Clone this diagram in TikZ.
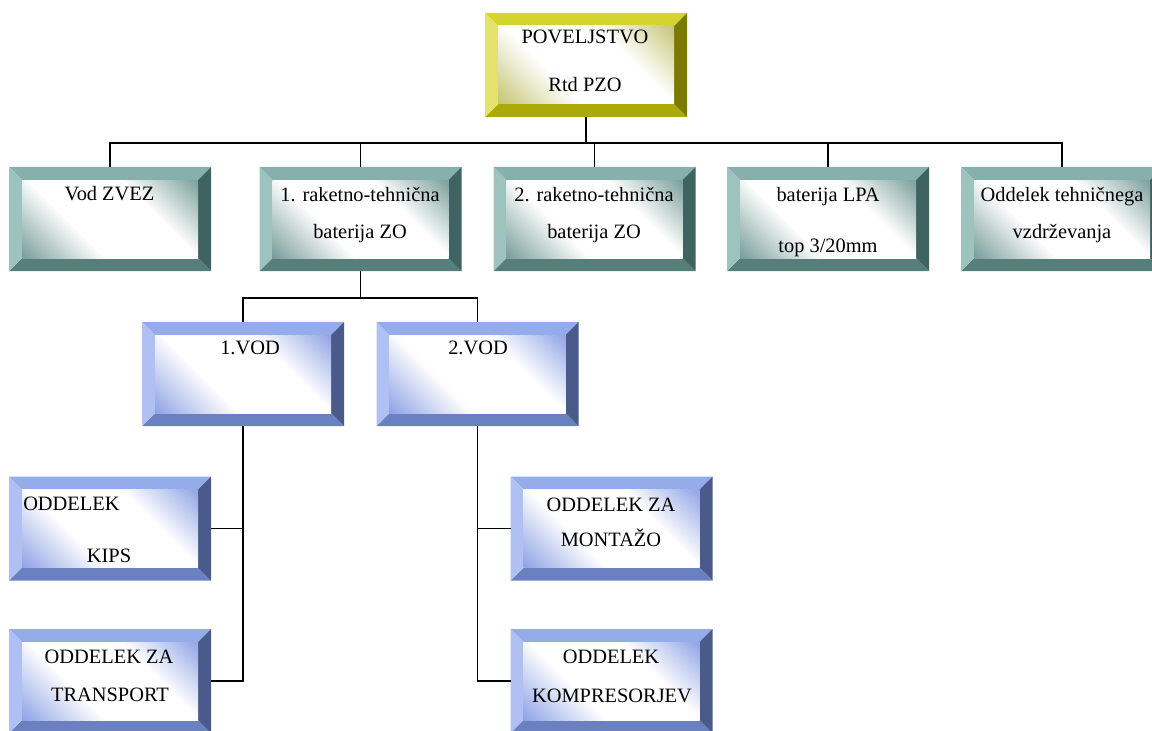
\documentclass[tikz,border=0pt]{standalone}
\usepackage{fontspec}
\setmainfont{Liberation Serif}
\usetikzlibrary{calc}

\definecolor{goldtop}{HTML}{D4D42C}
\definecolor{goldleft}{HTML}{E2E26C}
\definecolor{goldright}{HTML}{7A7A00}
\definecolor{goldbot}{HTML}{AAAA08}
\definecolor{goldin}{HTML}{B9B95A}
\definecolor{seatop}{HTML}{86B0AC}
\definecolor{sealeft}{HTML}{9EC2BE}
\definecolor{searight}{HTML}{3E6360}
\definecolor{seabot}{HTML}{567E7A}
\definecolor{seain}{HTML}{5E8A86}
\definecolor{skytop}{HTML}{94ACEA}
\definecolor{skyleft}{HTML}{B0C0F2}
\definecolor{skyright}{HTML}{4A5A8A}
\definecolor{skybot}{HTML}{6A80C0}
\definecolor{skyin}{HTML}{7890E0}
\colorlet{bvin}{white}
\newcommand{\bvw}{9.75pt}
\pgfdeclareverticalshading[bvin]{bevelin}{100bp}{color(0bp)=(bvin); color(10bp)=(bvin);
  color(38bp)=(white); color(64bp)=(white); color(90bp)=(bvin); color(100bp)=(bvin)}

\begin{document}
\begin{tikzpicture}
[x=0.75pt,y=-0.75pt,
bevel/.style={rectangle, draw=none, inner sep=0pt, outer sep=0pt,
   minimum width=151.5pt, minimum height=78pt,
   path picture={
     \coordinate (nw) at (path picture bounding box.north west);
     \coordinate (ne) at (path picture bounding box.north east);
     \coordinate (sw) at (path picture bounding box.south west);
     \coordinate (se) at (path picture bounding box.south east);
     \fill[#1top] (nw) -- (ne) -- ([shift={(-\bvw,-\bvw)}]ne) -- ([shift={(\bvw,-\bvw)}]nw) -- cycle;
     \fill[#1bot] (sw) -- (se) -- ([shift={(-\bvw,\bvw)}]se) -- ([shift={(\bvw,\bvw)}]sw) -- cycle;
     \fill[#1left] (nw) -- (sw) -- ([shift={(\bvw,\bvw)}]sw) -- ([shift={(\bvw,-\bvw)}]nw) -- cycle;
     \fill[#1right] (ne) -- (se) -- ([shift={(-\bvw,\bvw)}]se) -- ([shift={(-\bvw,-\bvw)}]ne) -- cycle;
     \colorlet{bvin}{#1in}
     \shade[shading=bevelin, shading angle=-45]
       ([shift={(\bvw,-\bvw)}]nw) rectangle ([shift={(-\bvw,\bvw)}]se);
   }},
lbl/.style={anchor=base, inner sep=0pt, font=\rmfamily\fontsize{15.3}{18}\selectfont},
link/.style={line width=1.4pt, black}]
\useasboundingbox (0,0) rectangle (1152,731);

% first row
\node[bevel=gold] (pov) at (586,65) {};
\node[lbl] (povt1) at (585,44) {POVELJSTVO};
\node[lbl] (povt2) at (585,92) {Rtd PZO};

% second row
\node[bevel=sea] (zvez) at (110,219) {};
\node[bevel=sea] (rt1) at (360.5,219) {};
\node[bevel=sea] (rt2) at (594.5,219) {};
\node[bevel=sea] (lpa) at (828,219) {};
\node[bevel=sea] (otv) at (1062,219) {};

\node[lbl] (zvezt) at (109.5,200) {Vod ZVEZ};
\node[lbl] (rt1a) at (360,201) {1. raketno-tehnična};
\node[lbl] (rt1b) at (360,238) {baterija ZO};
\node[lbl] (rt2a) at (594,201) {2. raketno-tehnična};
\node[lbl] (rt2b) at (594,238) {baterija ZO};
\node[lbl] (lpaa) at (828,201) {baterija LPA};
\node[lbl] (lpab) at (828,252) {top 3/20mm};
\node[lbl] (otva) at (1062,201) {Oddelek tehničnega};
\node[lbl] (otvb) at (1062,238) {vzdrževanja};

% third row
\node[bevel=sky] (vod1) at (243,374) {};
\node[bevel=sky] (vod2) at (477.5,374) {};
\node[lbl] (vod1t) at (250,354) {1.VOD};
\node[lbl] (vod2t) at (478,354) {2.VOD};

% fourth and fifth row
\node[bevel=sky] (kips) at (110,528.5) {};
\node[bevel=sky] (trans) at (110,681) {};
\node[bevel=sky] (mont) at (611.5,528.5) {};
\node[bevel=sky] (komp) at (611.5,681) {};

\node[lbl, anchor=base west] (kipsa) at (23,510) {ODDELEK};
\node[lbl] (kipsb) at (109,562) {KIPS};
\node[lbl] (transa) at (109,663) {ODDELEK ZA};
\node[lbl] (transb) at (110,701) {TRANSPORT};
\node[lbl] (monta) at (611,511) {ODDELEK ZA};
\node[lbl] (montb) at (611,546) {MONTAŽO};
\node[lbl] (kompa) at (611,663) {ODDELEK};
\node[lbl] (kompb) at (612,702) {KOMPRESORJEV};

% connectors
\coordinate (bus) at (586,143);
\coordinate (bus2) at (360.5,298);
\draw[link] (pov.south) -- (bus);
\draw[link] (bus) -| (zvez.north);
\draw[link] (bus) -| (rt1.north);
\draw[link] (bus) -| (rt2.north);
\draw[link] (bus) -| (lpa.north);
\draw[link] (bus) -| (otv.north);

\draw[link] (rt1.south) -- (bus2);
\draw[link] (bus2) -| (vod1.north);
\draw[link] (bus2) -| (vod2.north);

\draw[link] (vod1.south) |- (trans.east);
\draw[link] (kips.east) -- (kips.east -| vod1.south);
\draw[link] (vod2.south) |- (komp.west);
\draw[link] (mont.west) -- (mont.west -| vod2.south);

\end{tikzpicture}
\end{document}
